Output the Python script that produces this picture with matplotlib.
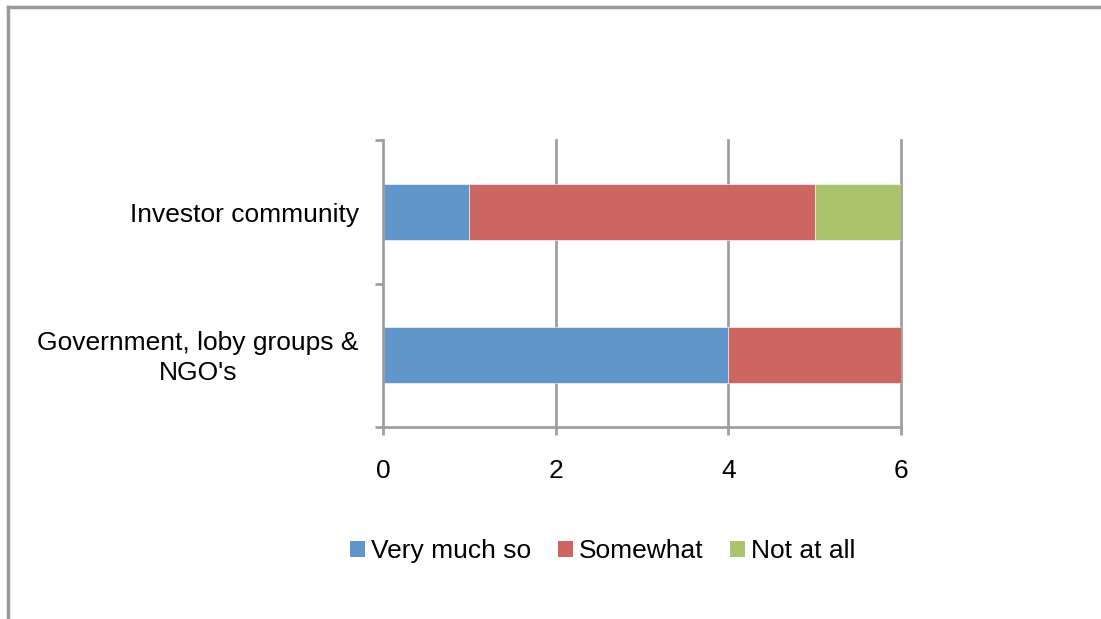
import matplotlib
matplotlib.use("Agg")
import matplotlib.pyplot as plt
from matplotlib.lines import Line2D
from matplotlib.patches import Patch

categories = ["Government, loby groups &\nNGO's", "Investor community"]
series_names = ["Very much so", "Somewhat", "Not at all"]
very_much = [4, 1]
somewhat = [2, 4]
not_at_all = [0, 1]
x_ticks = [0, 2, 4, 6]
colors = ["#6096C9", "#CD6660", "#AAC46C"]

plt.rcParams['font.family'] = ['Liberation Sans', 'DejaVu Sans']
FS = 19

W, H = 1101, 619
fig = plt.figure(figsize=(W / 100, H / 100), dpi=100)
ax = fig.add_axes([383 / W, 1 - 427 / H, (901 - 383) / W, (427 - 140) / H])

grid_c = "#A0A0A0"
ypos = list(range(len(categories)))
left = [0] * len(categories)
for name, vals, c in zip(series_names, [very_much, somewhat, not_at_all], colors):
    ax.barh(ypos, vals, left=left, height=0.39, color=c, label=name,
            edgecolor="white", linewidth=0.4, zorder=3)
    left = [l + v for l, v in zip(left, vals)]

ax.set_xlim(0, 6)
ax.set_ylim(-0.5, 1.5)
ax.set_xticks(x_ticks)
ax.set_xticklabels([str(t) for t in x_ticks], fontsize=FS)
ax.set_yticks([-0.5, 0.5, 1.5])
ax.set_yticklabels([])
ax.tick_params(axis='y', length=6, width=2, color=grid_c, direction='out')
ax.tick_params(axis='x', length=6, width=2, color=grid_c, direction='out', pad=17)
for y, lab in zip(ypos, categories):
    ax.text(-0.28, y - 0.02, lab, ha='right', va='center', multialignment='center',
            fontsize=FS, linespacing=1.3, transform=ax.transData)

for t in x_ticks[1:]:
    ax.axvline(t, color=grid_c, linewidth=2, zorder=0, clip_on=False)
for s in ['top', 'right']:
    ax.spines[s].set_visible(False)
for s in ['left', 'bottom']:
    ax.spines[s].set_color(grid_c)
    ax.spines[s].set_linewidth(2)
ax.spines['left'].set_zorder(4)

handles = [Patch(facecolor=c, edgecolor='none') for c in colors]
fig.legend(handles, series_names, loc='center', bbox_to_anchor=(603 / W, 1 - 551 / H),
           ncol=3, frameon=False, fontsize=FS, handlelength=0.55, handleheight=0.55,
           handletextpad=0.25, columnspacing=1.0)

# outer frame (top and left edges)
fig.add_artist(Line2D([8 / W, 1], [1 - 7 / H, 1 - 7 / H], color="#999999", linewidth=2.5,
                      transform=fig.transFigure))
fig.add_artist(Line2D([8 / W, 8 / W], [0, 1 - 7 / H], color="#999999", linewidth=2.5,
                      transform=fig.transFigure))

fig.savefig("out.png", dpi=100)
